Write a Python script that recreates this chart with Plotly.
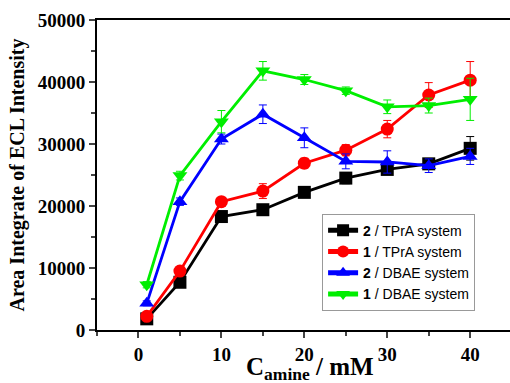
import plotly.graph_objects as go

conc = [1, 5, 10, 15, 20, 25, 30, 35, 40]
names = ["<b>2</b> / TPrA system", "<b>1</b> / TPrA system", "<b>2</b> / DBAE system", "<b>1</b> / DBAE system"]
colors = ["#000000", "#ff0000", "#0000ff", "#00ee00"]
symbols = ["square", "circle", "triangle-up", "triangle-down"]

tpra2 = [1800, 7700, 18300, 19400, 22200, 24500, 25900, 26800, 29300]
tpra1 = [2200, 9500, 20700, 22400, 26900, 29000, 32400, 37900, 40300]
dbae2 = [4300, 20700, 30800, 34800, 31000, 27200, 27100, 26500, 28000]
dbae1 = [7300, 24900, 33600, 41800, 40400, 38600, 36000, 36200, 37200]

err_tpra2 = [300, 400, 600, 700, 600, 900, 700, 800, 1900]
err_tpra1 = [300, 500, 600, 1200, 800, 900, 1400, 2000, 3000]
err_dbae2 = [400, 600, 800, 1500, 1600, 1200, 1800, 1100, 1300]
err_dbae1 = [500, 700, 1800, 1500, 800, 600, 1100, 1200, 3400]

xticks = [0, 10, 20, 30, 40]
yticks = [0, 10000, 20000, 30000, 40000, 50000]
x_title = "<b>C<sub>amine</sub> / mM</b>"
y_title = "<b>Area Integrate of ECL Intensity</b>"

series = [tpra2, tpra1, dbae2, dbae1]
errs = [err_tpra2, err_tpra1, err_dbae2, err_dbae1]

fig = go.Figure()
for n, c, s, y, e in zip(names, colors, symbols, series, errs):
    fig.add_trace(go.Scatter(
        x=conc, y=y, name=n, mode="lines+markers",
        line=dict(color=c, width=2.8),
        marker=dict(symbol=s, size=13, color=c),
        error_y=dict(type="data", array=e, color=c, thickness=1, width=4),
    ))

serif = "Liberation Serif, Times New Roman, serif"
tickfont = dict(family=serif, size=19, color="black")
fig.update_layout(
    width=510, height=383,
    margin=dict(l=97, r=0, t=20, b=53),
    paper_bgcolor="white", plot_bgcolor="white",
    showlegend=True,
    legend=dict(x=0.545, y=0.375, xanchor="left", yanchor="top",
                bordercolor="#999999", borderwidth=1, bgcolor="white",
                font=dict(family="Liberation Sans, Arial, sans-serif", size=14, color="black"),
                tracegroupgap=0, itemsizing="constant", itemwidth=30),
    xaxis=dict(range=[-5, 44.8], tickvals=xticks, ticktext=[f"<b>{v}</b>" for v in xticks],
               ticks="outside", automargin=False,
               ticklen=6, tickwidth=2, showline=True, linewidth=2, linecolor="black",
               mirror=True, showgrid=False, zeroline=False, tickfont=tickfont,
               minor=dict(tickvals=[-5, 5, 15, 25, 35, 45], ticks="outside", ticklen=4, tickwidth=2)),
    yaxis=dict(range=[0, 50000], tickvals=yticks, ticktext=[f"<b>{v}</b>" for v in yticks],
               ticks="outside",
               ticklen=6, tickwidth=2, showline=True, linewidth=2, linecolor="black",
               showgrid=False, zeroline=False, tickfont=tickfont,
               minor=dict(tickvals=[5000, 15000, 25000, 35000, 45000], ticks="outside", ticklen=4, tickwidth=2),
               title=dict(text=y_title, standoff=8,
                          font=dict(family=serif, size=20, color="black"))),
    annotations=[dict(text=x_title, xref="paper", yref="paper", x=0.516, y=-0.125,
                      xanchor="center", yanchor="middle", showarrow=False,
                      font=dict(family=serif, size=25, color="black"))],
)
fig.write_html("out.html")
